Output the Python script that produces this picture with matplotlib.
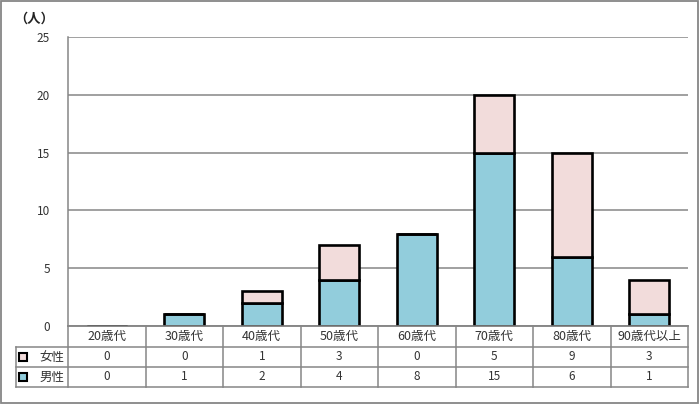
import matplotlib
matplotlib.use("Agg")
import matplotlib.pyplot as plt
from matplotlib.patches import Rectangle
from matplotlib.lines import Line2D

plt.rcParams['font.family'] = ['Noto Sans CJK JP', 'DejaVu Sans']

categories = ["20歳代", "30歳代", "40歳代", "50歳代", "60歳代", "70歳代", "80歳代", "90歳代以上"]
series_names = ["女性", "男性"]
female = [0, 0, 1, 3, 0, 5, 9, 3]
male = [0, 1, 2, 4, 8, 15, 6, 1]
yticks = [0, 5, 10, 15, 20, 25]

c_female = "#F2DCDB"
c_male = "#92CDDC"
grid_c = "#868686"

W, H = 700, 405
fig = plt.figure(figsize=(7, 4.05), dpi=100)

def fx(px):
    return px / W

def fy(py):
    return 1 - py / H

left, right, top, bottom = 68, 688, 37, 326
ax = fig.add_axes([fx(left), fy(bottom), fx(right - left), fy(top) - fy(bottom)])

n = len(categories)
x = list(range(n))
bw = 0.52
ax.bar(x, male, width=bw, color=c_male, edgecolor="black", linewidth=1.9, zorder=3)
ax.bar(x, female, width=bw, bottom=male, color=c_female, edgecolor="black", linewidth=1.9, zorder=3)

ax.set_xlim(-0.5, n - 0.5)
ax.set_ylim(0, 25)
ax.set_yticks(yticks)
ax.set_yticklabels([str(v) for v in yticks], fontsize=8.5, color="#333333")
ax.tick_params(axis='y', length=0, pad=13)
ax.set_xticks([])
ax.yaxis.grid(True, color=grid_c, linewidth=1.1, zorder=0)
for s in ["top", "right"]:
    ax.spines[s].set_visible(False)
ax.spines["left"].set_color(grid_c)
ax.spines["bottom"].set_color(grid_c)
ax.spines["left"].set_linewidth(1.1)
ax.spines["bottom"].set_linewidth(1.1)

fig.text(fx(14), fy(19), "（人）", fontsize=9.5, fontweight="bold", ha="left", va="center", color="#222222")

# data table
rows_y = [326, 347, 367, 387]
col_w = (right - left) / n
leg_left = 16
lc = grid_c

def hline(y, x0, x1):
    fig.add_artist(Line2D([fx(x0), fx(x1)], [fy(y), fy(y)], color=lc, linewidth=1.1))

def vline(xp, y0, y1):
    fig.add_artist(Line2D([fx(xp), fx(xp)], [fy(y0), fy(y1)], color=lc, linewidth=1.1))

hline(rows_y[0], left, right)
for y in rows_y[1:]:
    hline(y, leg_left, right)
vline(leg_left, rows_y[1], rows_y[3])
for i in range(n + 1):
    vline(left + i * col_w, rows_y[0], rows_y[3])

for i, cat in enumerate(categories):
    cx = left + (i + 0.5) * col_w
    fig.text(fx(cx), fy((rows_y[0] + rows_y[1]) / 2), cat, fontsize=9, ha="center", va="center", color="#333333")
    fig.text(fx(cx), fy((rows_y[1] + rows_y[2]) / 2), str(female[i]), fontsize=8.5, ha="center", va="center", color="#333333")
    fig.text(fx(cx), fy((rows_y[2] + rows_y[3]) / 2), str(male[i]), fontsize=8.5, ha="center", va="center", color="#333333")

for k, (name, col) in enumerate(zip(series_names, [c_female, c_male])):
    cy = (rows_y[1 + k] + rows_y[2 + k]) / 2
    fig.add_artist(Rectangle((fx(19), fy(cy + 4)), fx(8), fy(cy - 4) - fy(cy + 4),
                             facecolor=col, edgecolor="black", linewidth=1.5))
    fig.text(fx(52), fy(cy), name, fontsize=9, ha="center", va="center", color="#333333")

# outer border
fig.add_artist(Rectangle((fx(1), fy(403)), fx(697), fy(1) - fy(403), fill=False,
                         edgecolor=grid_c, linewidth=1.3))

fig.savefig("out.png", dpi=100)
